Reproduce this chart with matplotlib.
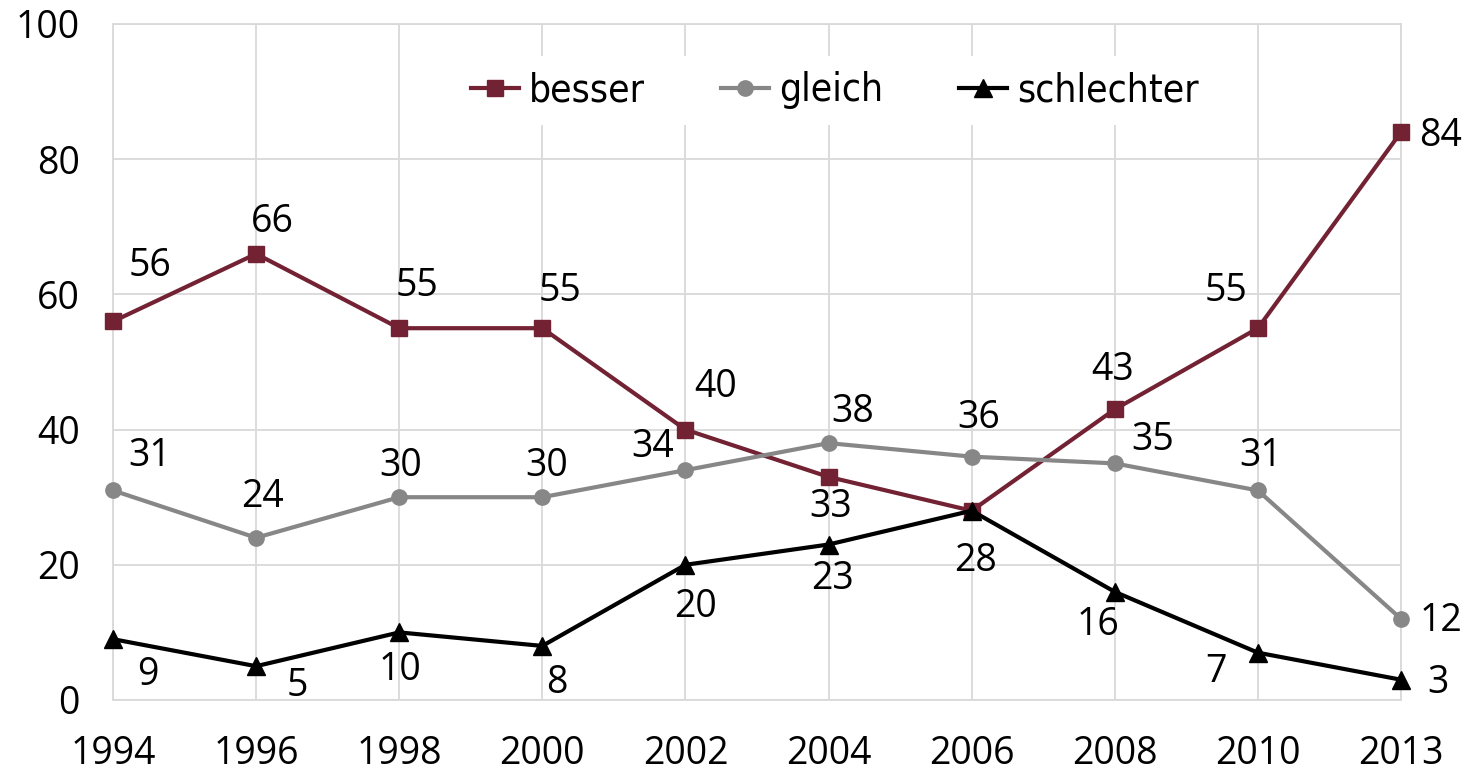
import matplotlib
matplotlib.use("Agg")
import matplotlib.pyplot as plt

years = ["1994", "1996", "1998", "2000", "2002", "2004", "2006", "2008", "2010", "2013"]
besser = [56, 66, 55, 55, 40, 33, 28, 43, 55, 84]
gleich = [31, 24, 30, 30, 34, 38, 36, 35, 31, 12]
schlechter = [9, 5, 10, 8, 20, 23, 28, 16, 7, 3]

# label offsets in pixels (dx, dy), None = no label
besser_off = [(37, 55), (16, 32), (18, 42), (18, 37), (30, 43), (2, -30), (4, -50), (-2, 39), (-32, 37), (40, -4)]
gleich_off = [(37, 34), (6, 41), (1, 31), (4, 31), (-33, 23), (24, 31), (7, 39), (38, 23), (3, 34), (40, -2)]
schlechter_off = [(35, -36), (41, -20), (1, -38), (15, -37), (10, -42), (4, -34), None, (-17, -33), (-42, -19), (37, -3)]

c_besser = "#722233"
c_gleich = "#878787"
c_schl = "#000000"

plt.rcParams['font.family'] = ['Open Sans', 'DejaVu Sans']

fig = plt.figure(figsize=(14.77, 7.79), dpi=100)
ax = fig.add_axes([113 / 1477, 79 / 779, 1288 / 1477, 676 / 779])

x = list(range(len(years)))
ax.plot(x, besser, color=c_besser, lw=3.0, marker='s', ms=12, label='besser', zorder=3, clip_on=False)
ax.plot(x, gleich, color=c_gleich, lw=3.0, marker='o', ms=11, label='gleich', zorder=3, clip_on=False)
ax.plot(x, schlechter, color=c_schl, lw=3.0, marker='^', ms=13, label='schlechter', zorder=4, clip_on=False)

for vals, offs in [(besser, besser_off), (gleich, gleich_off), (schlechter, schlechter_off)]:
    for xi, v, o in zip(x, vals, offs):
        if o is None:
            continue
        ax.annotate(str(v), (xi, v), xytext=o, textcoords='offset pixels',
                    ha='center', va='center', fontsize=27, color='black', zorder=5)

ax.set_xlim(0, len(years) - 1)
ax.set_ylim(0, 100)
ax.set_yticks(range(0, 101, 20))
ax.set_xticks(x)
ax.set_xticklabels(years)
ax.grid(True, color='#d9d9d9', lw=1.3, zorder=0)
ax.set_axisbelow(True)
for s in ax.spines.values():
    s.set_color('#d9d9d9')
    s.set_linewidth(1.3)
ax.tick_params(axis='both', length=0, labelsize=27)
ax.tick_params(axis='y', pad=24)
ax.tick_params(axis='x', pad=25)

leg = ax.legend(loc='center', bbox_to_anchor=(0.5606, 0.902), ncol=3, frameon=True,
                handlelength=1.23, columnspacing=1.95, handletextpad=0.26, borderpad=0.4,
                prop={'family': ['DejaVu Sans'], 'stretch': 'condensed', 'size': 28})
leg.get_frame().set_facecolor('white')
leg.get_frame().set_edgecolor('none')
leg.get_frame().set_alpha(1)
leg.set_zorder(6)

fig.savefig("out.png", dpi=100)
